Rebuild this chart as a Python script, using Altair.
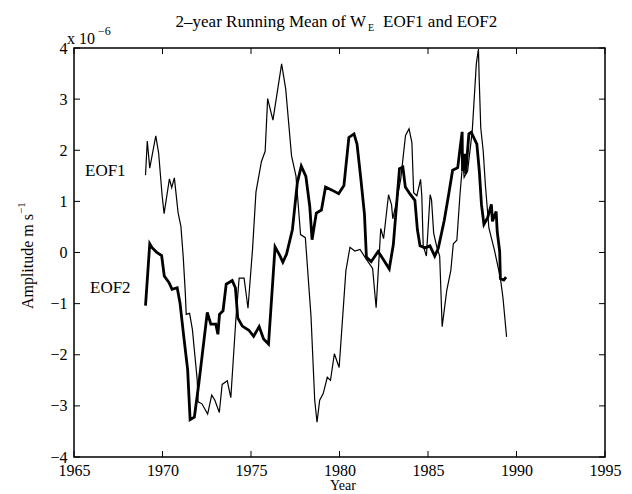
import altair as alt
import pandas as pd

# ---- data (year, amplitude in 1e-6 m/s) ----
eof1_year = [1969.04, 1969.14, 1969.28, 1969.62, 1969.78, 1969.98, 1970.09, 1970.39, 1970.52, 1970.67,
             1970.88, 1971.04, 1971.17, 1971.29, 1971.34, 1971.53, 1971.69, 1971.96, 1972.01, 1972.23,
             1972.55, 1972.78, 1972.96, 1973.21, 1973.37, 1973.66, 1973.86, 1974.15, 1974.33, 1974.61,
             1974.83, 1975.09, 1975.28, 1975.59, 1975.80, 1975.94, 1976.24, 1976.73, 1976.96, 1977.29,
             1977.54, 1977.80, 1978.07, 1978.39, 1978.60, 1978.73, 1978.88, 1979.08, 1979.31, 1979.49,
             1979.71, 1979.98, 1980.36, 1980.59, 1980.87, 1981.16, 1981.51, 1981.87, 1982.07, 1982.33,
             1982.49, 1982.77, 1982.94, 1983.01, 1983.22, 1983.46, 1983.73, 1983.93, 1984.09, 1984.19,
             1984.37, 1984.58, 1984.65, 1984.73, 1984.91, 1985.12, 1985.20, 1985.32, 1985.49, 1985.66,
             1985.80, 1986.06, 1986.29, 1986.43, 1986.63, 1986.81, 1986.97, 1987.04, 1987.24, 1987.50,
             1987.73, 1987.85, 1987.89, 1987.98, 1988.12, 1988.24, 1988.44, 1988.77, 1989.09, 1989.24,
             1989.44]
eof1_amp = [1.51, 2.18, 1.65, 2.28, 1.95, 1.11, 0.76, 1.44, 1.27, 1.46,
            0.78, 0.51, -0.08, -0.80, -1.21, -1.19, -1.51, -2.49, -2.92, -2.96,
            -3.16, -2.79, -2.89, -3.13, -2.58, -2.51, -2.84, -1.28, -0.50, -0.50,
            -1.09, 0.08, 1.18, 1.78, 1.98, 3.01, 2.59, 3.69, 3.20, 1.89,
            1.50, 0.35, 0.29, -1.25, -2.89, -3.32, -2.89, -2.76, -2.44, -2.50,
            -1.98, -2.25, -0.36, 0.10, 0.03, 0.06, -0.13, -0.31, -1.08, 0.47,
            0.27, 1.13, 0.93, 0.66, 0.99, 1.44, 2.29, 2.42, 2.15, 1.17,
            1.11, 1.43, 1.11, 0.13, -0.07, 1.13, 1.03, 0.38, 0.12, -0.07,
            -1.45, -0.74, -0.35, 0.17, 0.24, 1.15, 1.80, 1.47, 1.60, 2.38,
            3.69, 3.98, 3.42, 2.44, 1.98, 1.33, 0.48, 0.02, -0.50, -0.90,
            -1.65]

eof2_year = [1969.04, 1969.28, 1969.40, 1969.68, 1969.95, 1970.10, 1970.37, 1970.54, 1970.83, 1970.99,
             1971.20, 1971.42, 1971.56, 1971.80, 1972.05, 1972.53, 1972.73, 1973.01, 1973.13, 1973.22,
             1973.42, 1973.60, 1973.94, 1974.12, 1974.25, 1974.51, 1974.88, 1975.15, 1975.46, 1975.71,
             1975.99, 1976.36, 1976.63, 1976.80, 1977.01, 1977.34, 1977.62, 1977.84, 1978.10, 1978.32,
             1978.45, 1978.69, 1978.98, 1979.21, 1979.58, 1979.95, 1980.25, 1980.53, 1980.82, 1980.99,
             1981.20, 1981.41, 1981.52, 1981.79, 1982.18, 1982.45, 1982.81, 1983.04, 1983.39, 1983.58,
             1983.72, 1983.99, 1984.26, 1984.40, 1984.55, 1984.83, 1985.11, 1985.38, 1985.58, 1985.92,
             1986.16, 1986.39, 1986.68, 1986.82, 1986.93, 1986.95, 1987.08, 1987.13, 1987.31, 1987.44,
             1987.58, 1987.76, 1987.90, 1988.02, 1988.16, 1988.37, 1988.58, 1988.64, 1988.85, 1988.91,
             1989.05, 1989.09, 1989.28, 1989.41]
eof2_amp = [-1.04, 0.17, 0.10, 0.00, -0.06, -0.46, -0.59, -0.72, -0.69, -0.99,
            -1.64, -2.29, -3.27, -3.22, -2.57, -1.17, -1.40, -1.40, -1.60, -1.21,
            -1.14, -0.62, -0.55, -0.69, -1.28, -1.44, -1.52, -1.64, -1.45, -1.69,
            -1.79, 0.11, -0.06, -0.19, -0.03, 0.45, 1.37, 1.69, 1.49, 0.90,
            0.25, 0.77, 0.83, 1.28, 1.22, 1.15, 1.31, 2.25, 2.32, 2.12,
            1.46, 0.75, -0.09, -0.18, 0.02, -0.12, -0.32, 0.15, 1.64, 1.67,
            1.28, 1.14, 1.02, 0.45, 0.13, 0.09, 0.13, -0.07, 0.08, 0.63,
            1.12, 1.61, 1.66, 2.06, 2.36, 1.60, 1.93, 1.54, 2.32, 2.35,
            2.25, 2.12, 1.59, 0.94, 0.55, 0.68, 0.94, 0.61, 0.80, 0.41,
            0.02, -0.51, -0.54, -0.48]

x_ticks = [1965, 1970, 1975, 1980, 1985, 1990, 1995]
y_ticks = [-4, -3, -2, -1, 0, 1, 2, 3, 4]

W, H = 531, 409
FONT = "Liberation Serif"
TICK = 6

df1 = pd.DataFrame({"year": eof1_year, "amp": eof1_amp, "i": list(range(len(eof1_year)))})
df2 = pd.DataFrame({"year": eof2_year, "amp": eof2_amp, "i": list(range(len(eof2_year)))})
dfx = pd.DataFrame({"year": x_ticks})
dfy = pd.DataFrame({"amp": y_ticks})

xscale = alt.Scale(domain=[1965, 1995], nice=False, zero=False)
yscale = alt.Scale(domain=[-4, 4], nice=False, zero=False)

xaxis = alt.Axis(values=x_ticks, format="d", title=None, labelFlush=False, labelOverlap=False,
                 ticks=False, domain=False, grid=False, labelFont=FONT, labelFontSize=16,
                 labelColor="black", labelPadding=5)
yaxis = alt.Axis(values=y_ticks, format="d", title=None, labelOverlap=False,
                 ticks=False, domain=False, grid=False, labelFont=FONT, labelFontSize=16,
                 labelColor="black", labelPadding=7)

X = alt.X("year:Q", scale=xscale, axis=xaxis)
Y = alt.Y("amp:Q", scale=yscale, axis=yaxis)

line1 = alt.Chart(df1).mark_line(color="black", strokeWidth=1.2).encode(x=X, y=Y, order="i:Q")
line2 = alt.Chart(df2).mark_line(color="black", strokeWidth=2.8).encode(x=X, y=Y, order="i:Q")

# inward ticks on all four sides
tb = alt.Chart(dfx).mark_rule(color="black", strokeWidth=1)
ticks_bottom = tb.encode(x=X, y=alt.value(H - TICK), y2=alt.value(H))
ticks_top = tb.encode(x=X, y=alt.value(0), y2=alt.value(TICK))
tl = alt.Chart(dfy).mark_rule(color="black", strokeWidth=1)
ticks_left = tl.encode(y=Y, x=alt.value(0), x2=alt.value(TICK))
ticks_right = tl.encode(y=Y, x=alt.value(W - TICK), x2=alt.value(W))


def label(text, x, y, size=17, align="left", baseline="alphabetic", angle=0):
    props = dict(text=text, font=FONT, fontSize=size, color="black", align=align, baseline=baseline)
    if angle:
        props["angle"] = angle
    return alt.Chart(alt.Data(values=[{}])).mark_text(**props).encode(x=alt.value(x), y=alt.value(y))


WX = 292
texts = [
    label("2\u2013year Running Mean of W", WX, -21, size=17, align="right"),
    label("E", WX + 2, -17, size=10),
    label("EOF1 and EOF2", WX + 17, -21, size=17),
    label("x 10", -7, -4, size=16),
    label("\u22126", 24, -13, size=12),
    label("EOF1", 11, 123, size=17, baseline="middle"),
    label("EOF2", 16, 240, size=17, baseline="middle"),
    label("Year", 269, 442, size=14, align="center"),
    label("Amplitude  m s", -46, 166, size=16, align="right", baseline="middle", angle=270),
    label("\u22121", -52, 166, size=11, align="left", baseline="middle", angle=270),
]

chart = alt.layer(line1, line2, ticks_bottom, ticks_top, ticks_left, ticks_right, *texts).properties(
    width=W,
    height=H,
    autosize=alt.AutoSizeParams(type="none"),
    padding={"left": 66, "top": 40, "right": 19, "bottom": 38},
).configure_view(stroke="black", strokeWidth=1.5)

chart.save("out.html", embed_options={"renderer": "svg", "actions": False})
